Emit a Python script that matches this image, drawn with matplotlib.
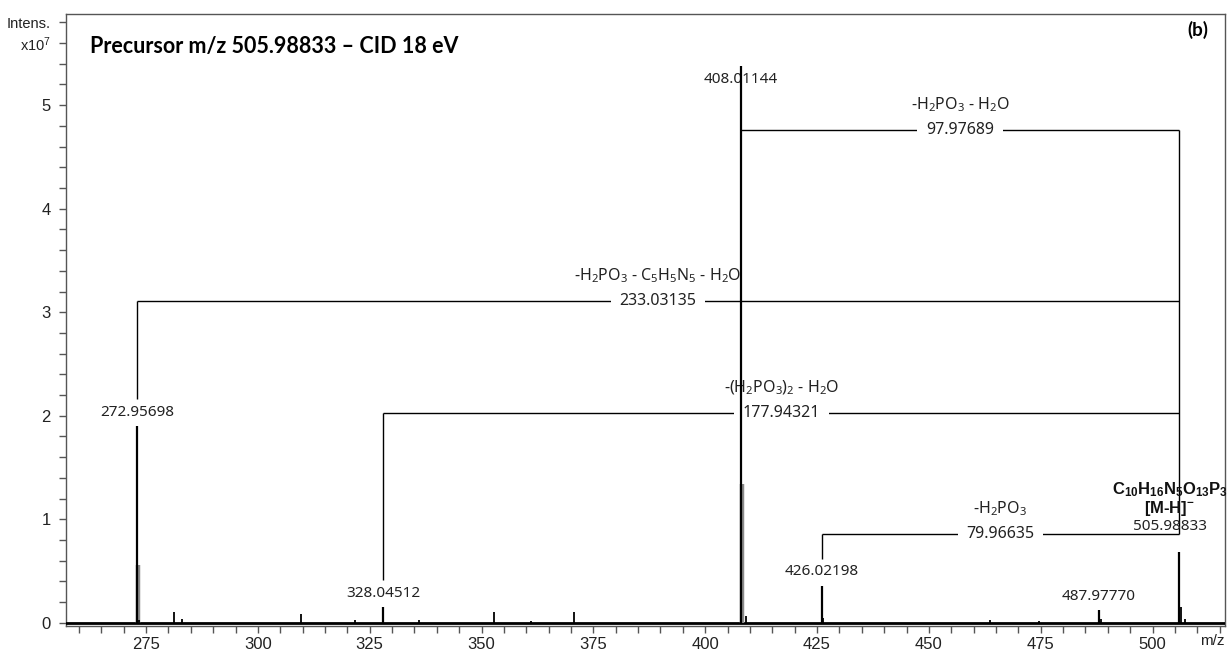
import numpy as np
import matplotlib
matplotlib.use("Agg")
import matplotlib.pyplot as plt
from matplotlib.transforms import offset_copy

plt.rcParams['mathtext.default'] = 'regular'

# labelled peaks (m/z, intensity x1e7)
peak_mz = [272.95698, 328.04512, 408.01144, 426.02198, 487.97770, 505.98833]
peak_int = [1.90, 0.15, 5.38, 0.36, 0.12, 0.68]
peak_txt = ["272.95698", "328.04512", "408.01144", "426.02198", "487.97770", "505.98833"]

# grey profile shoulders
shoulder_mz = [273.10, 408.15]
shoulder_int = [0.56, 1.34]

# small unlabelled peaks
minor_mz = [273.5, 281.2, 283.0, 309.6, 321.8, 336.0, 352.8, 361.0, 370.7,
            409.1, 426.4, 463.6, 474.6, 488.4, 506.4, 507.2]
minor_int = [0.03, 0.11, 0.04, 0.09, 0.03, 0.03, 0.11, 0.02, 0.11,
             0.07, 0.05, 0.03, 0.02, 0.04, 0.15, 0.04]

# neutral loss brackets from precursor to fragment
precursor = 505.98833
loss_frag = [408.01144, 272.95698, 328.04512, 426.02198]
loss_level = [4.76, 3.11, 2.03, 0.86]
loss_name = [r"-H$_2$PO$_3$ - H$_2$O",
             r"-H$_2$PO$_3$ - C$_5$H$_5$N$_5$ - H$_2$O",
             r"-(H$_2$PO$_3$)$_2$ - H$_2$O",
             r"-H$_2$PO$_3$"]
loss_value = ["97.97689", "233.03135", "177.94321", "79.96635"]

fig = plt.figure(figsize=(12.31, 6.52), dpi=100)
ax = fig.add_axes([66/1231, 1-626/652, (1225-66)/1231, (626-14)/652])
ymin, ymax = -0.03, 5.88
ax.set_xlim(257.1, 516.2)
ax.set_ylim(ymin, ymax)
ppu = ax.bbox.height / (ymax - ymin)   # pixels per 1e7

def shifted(dx, dy):
    return offset_copy(ax.transData, fig=fig, x=dx, y=dy, units='dots')

lblfont = dict(family="Noto Sans", fontsize=11, color="#222222")

# spectrum
ax.axhline(0, color="black", lw=2.0, zorder=4)
ax.vlines(shoulder_mz, 0, shoulder_int, color="#8a8a8a", lw=3.2, zorder=4)
ax.vlines(minor_mz, 0, minor_int, color="black", lw=1.3, zorder=5)
ax.vlines(peak_mz, 0, peak_int, color="black", lw=1.6, zorder=5)

# peak labels
for mz, h, t in zip(peak_mz, peak_int, peak_txt):
    if mz == precursor:
        continue
    if h > 5:
        ax.text(mz, h, t, transform=shifted(0, -14), ha="center", va="center", zorder=3, **lblfont)
    else:
        ax.text(mz, h, t, transform=shifted(0, 14), ha="center", va="center", zorder=3, **lblfont)

# precursor label stack
pk = peak_int[peak_mz.index(precursor)]
ax.text(precursor, pk, "505.98833", transform=shifted(-9, 26),
        ha="center", va="center", clip_on=False, **lblfont)
ax.text(precursor, pk, r"[M-H]$^{-}$", transform=shifted(-10, 44),
        ha="center", va="center", family="Liberation Sans", fontweight="bold", fontsize=12,
        color="#111111", clip_on=False)
ax.text(precursor, pk, r"C$_{10}$H$_{16}$N$_5$O$_{13}$P$_3$", transform=shifted(-9, 63),
        ha="center", va="center", family="Liberation Sans", fontweight="bold", fontsize=12,
        color="#111111", clip_on=False)

# brackets
ax.vlines(precursor, min(loss_level), max(loss_level), color="black", lw=1.0, zorder=2)
for f, lv, nm, val in zip(loss_frag, loss_level, loss_name, loss_value):
    ax.hlines(lv, f, precursor, color="black", lw=1.0, zorder=2)
    h = peak_int[peak_mz.index(f)]
    if h < lv:
        ax.vlines(f, h + 27/ppu, lv, color="black", lw=1.0, zorder=2)
    mid = (f + precursor) / 2
    ax.text(mid, lv, val, ha="center", va="center", zorder=3,
            bbox=dict(boxstyle="square,pad=0.55", fc="white", ec="none"),
            family="Noto Sans", fontsize=11.5, color="#222222")
    ax.text(mid, lv, nm, transform=shifted(0, 25), ha="center", va="center", zorder=3,
            family="Noto Sans", fontsize=11.5, color="#222222")

# axes styling
for s in ax.spines.values():
    s.set_color("#555555")
    s.set_linewidth(1.0)
ax.set_xticks([275, 300, 325, 350, 375, 400, 425, 450, 475, 500])
ax.set_xticks(np.arange(260, 516, 5), minor=True)
yt = np.arange(0, 5.81, 0.2)
ax.set_yticks(yt)
ylab = []
for v in yt:
    if abs(v - round(v)) < 1e-6:
        ylab.append(str(int(round(v))))
    else:
        ylab.append("")
ylab[-2] = r"x10$^7$"
ylab[-1] = "Intens."
ax.set_yticklabels(ylab)
ax.tick_params(axis="both", which="both", direction="out", length=5, width=1.0,
               color="#555555", labelcolor="#222222", labelsize=12)
ax.tick_params(axis="x", pad=3)
ax.tick_params(axis="y", pad=6)
for t in ax.get_xticklabels() + ax.get_yticklabels():
    t.set_family("Liberation Sans")
ax.get_yticklabels()[-1].set_fontsize(10.5)
ax.get_yticklabels()[-2].set_fontsize(10.5)

fig.text(1212/1231, 1-641/652, "m/z", ha="center", va="center",
         family="Liberation Sans", fontsize=11, color="#222222")
fig.text(90/1231, 1-47/652, "Precursor m/z 505.98833 – CID 18 eV", ha="left", va="center",
         family="Lato", fontweight="bold", fontsize=15.5, color="black")
fig.text(1198/1231, 1-30/652, "(b)", ha="center", va="center",
         family="Lato", fontweight="bold", fontsize=13.5, color="black")

fig.savefig("out.png", dpi=100)
